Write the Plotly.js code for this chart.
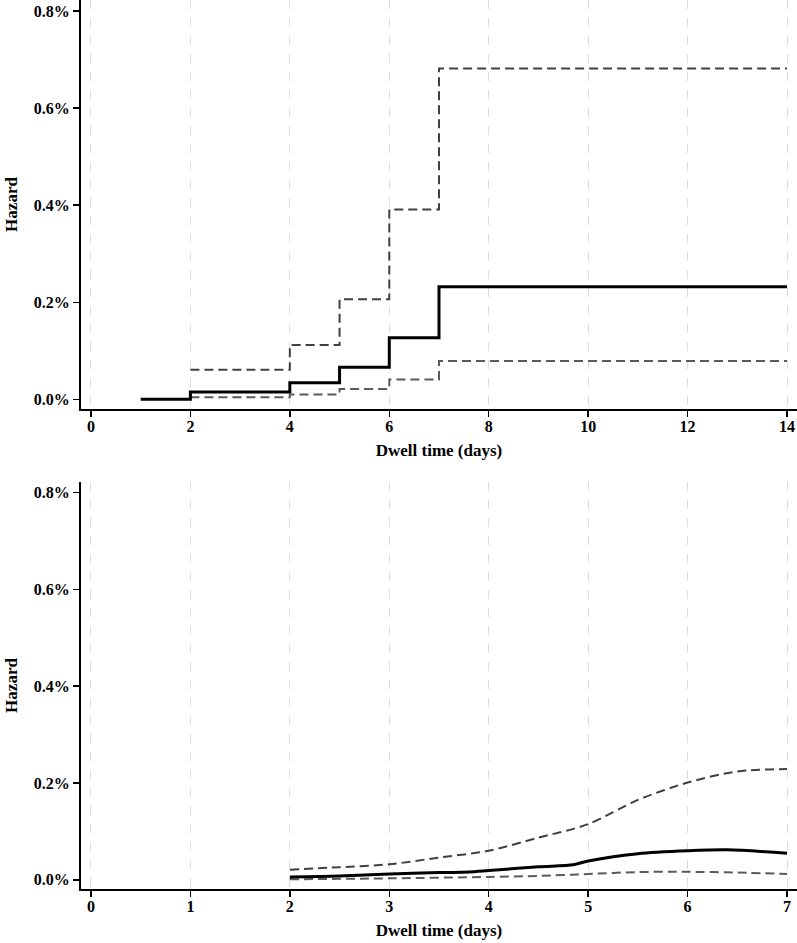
<!DOCTYPE html>
<html>
<head>
<meta charset="utf-8">
<script src="https://cdn.plot.ly/plotly-3.0.1.min.js"></script>
<style>html,body{margin:0;padding:0;background:#fff;}#chart{width:797px;height:943px;}</style>
</head>
<body>
<div id="chart"></div>
<script>
// ---- Top panel: step hazard (values in %) ----
var stepX = [1, 2, 4, 5, 6, 7, 14];
var stepHazard = [0, 0.015, 0.034, 0.066, 0.127, 0.232, 0.232];
var stepCiX = [2, 4, 5, 6, 7, 14];
var stepUpper = [0.061, 0.112, 0.206, 0.391, 0.682, 0.682];
var stepLower = [0.004, 0.010, 0.021, 0.041, 0.079, 0.079];

// ---- Bottom panel: smoothed hazard (values in %) ----
var smoothX = [2, 2.5, 3, 3.5, 3.8, 4, 4.5, 4.85, 5, 5.5, 6, 6.4, 7];
var smoothHazard = [0.006, 0.008, 0.012, 0.015, 0.016, 0.019, 0.027, 0.031, 0.039, 0.054, 0.060, 0.062, 0.055];
var smoothUpperX = [2, 2.5, 3, 3.5, 4, 4.5, 5, 5.5, 6, 6.5, 7];
var smoothUpper = [0.021, 0.026, 0.032, 0.046, 0.060, 0.087, 0.115, 0.165, 0.201, 0.224, 0.229];
var smoothLowerX = [2, 3, 4, 4.5, 5, 5.5, 6, 6.5, 7];
var smoothLower = [0.001, 0.003, 0.006, 0.008, 0.012, 0.016, 0.0165, 0.015, 0.012];

var yTickVals = [0, 0.2, 0.4, 0.6, 0.8];
var yTickText = ['0.0%', '0.2%', '0.4%', '0.6%', '0.8%'];
var topXTicks = [0, 2, 4, 6, 8, 10, 12, 14];
var botXTicks = [0, 1, 2, 3, 4, 5, 6, 7];
var xTitle = 'Dwell time (days)';
var yTitle = 'Hazard';

function pct(a) { return a.map(function (v) { return v / 100; }); }

var upColor = '#404040';
var loColor = '#5a5a5a';
var dash = '9px,5px';
var traces = [
  {x: stepCiX, y: pct(stepUpper), type: 'scatter', mode: 'lines', line: {shape: 'hv', color: upColor, width: 2, dash: dash}, xaxis: 'x', yaxis: 'y', hoverinfo: 'skip'},
  {x: stepCiX, y: pct(stepLower), type: 'scatter', mode: 'lines', line: {shape: 'hv', color: loColor, width: 2, dash: dash}, xaxis: 'x', yaxis: 'y', hoverinfo: 'skip'},
  {x: stepX, y: pct(stepHazard), type: 'scatter', mode: 'lines', line: {shape: 'hv', color: '#000', width: 3}, xaxis: 'x', yaxis: 'y'},
  {x: smoothUpperX, y: pct(smoothUpper), type: 'scatter', mode: 'lines', line: {shape: 'spline', smoothing: 0.8, color: upColor, width: 2, dash: dash}, xaxis: 'x2', yaxis: 'y2', hoverinfo: 'skip'},
  {x: smoothLowerX, y: pct(smoothLower), type: 'scatter', mode: 'lines', line: {shape: 'spline', smoothing: 0.8, color: loColor, width: 2, dash: dash}, xaxis: 'x2', yaxis: 'y2', hoverinfo: 'skip'},
  {x: smoothX, y: pct(smoothHazard), type: 'scatter', mode: 'lines', line: {shape: 'spline', smoothing: 0.8, color: '#000', width: 3}, xaxis: 'x2', yaxis: 'y2'}
];

var font = {family: 'Liberation Serif, Times New Roman, serif', size: 16, color: '#000', weight: 'bold'};
var titleFont = {family: 'Liberation Serif, Times New Roman, serif', size: 17, color: '#000', weight: 'bold'};
var H = 943;

function xAxis(ticks, range, anchor) {
  return {
    range: range, tickvals: ticks, ticktext: ticks.map(String), anchor: anchor,
    showgrid: true, gridcolor: '#dcdcdc', gridwidth: 1, griddash: 'dash',
    showline: true, linecolor: '#000', linewidth: 2, zeroline: false,
    ticks: 'outside', ticklen: 6, tickwidth: 1.5, tickcolor: '#000',
    ticklabelstandoff: -4,
    tickfont: font, title: {text: xTitle, font: titleFont, standoff: 10}
  };
}
function yAxis(domain, range, anchor) {
  return {
    domain: domain, range: range, tickvals: yTickVals.map(function (v) { return v / 100; }), ticktext: yTickText, anchor: anchor,
    showgrid: false, showline: true, linecolor: '#000', linewidth: 2, zeroline: false,
    ticks: 'outside', ticklen: 6, tickwidth: 1.5, tickcolor: '#000',
    tickfont: font, title: {text: yTitle, font: titleFont, standoff: 12}
  };
}

var layout = {
  width: 797, height: 943,
  margin: {l: 81, r: 0, t: 0, b: 0},
  paper_bgcolor: '#fff', plot_bgcolor: '#fff',
  showlegend: false,
  xaxis: xAxis(topXTicks, [-0.2, 14.2], 'y'),
  yaxis: yAxis([(H - 409) / H, 1], [-0.0002, 0.00823], 'x'),
  xaxis2: xAxis(botXTicks, [-0.1, 7.1], 'y2'),
  yaxis2: yAxis([(H - 889) / H, (H - 482) / H], [-0.00019, 0.00822], 'x2')
};

Plotly.newPlot('chart', traces, layout, {displayModeBar: false, staticPlot: true});
</script>
</body>
</html>
